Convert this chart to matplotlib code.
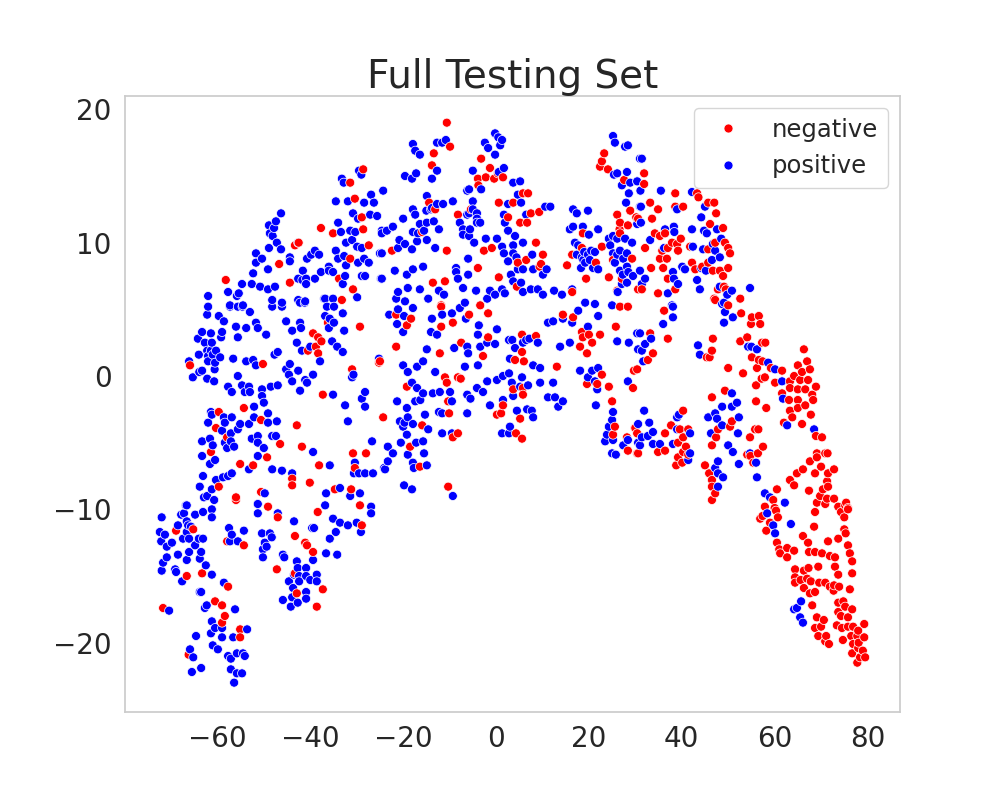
import matplotlib
matplotlib.use("Agg")
import matplotlib.pyplot as plt
import numpy as np
import pandas as pd
import seaborn as sns

# t-SNE coordinates, grouped by region (x, y)

# ---- negative (red) ----
neg_left_arm = [
    (-71.7, -17.4), (-68.9, -11.6), (-66.6, -15.0), (-65.2, -11.5), (-66.2, -20.9),
    (-63.3, -14.8), (-60.5, -16.9), (-59.0, -17.2), (-58.4, -18.0), (-59.0, -18.5),
    (-55.1, -19.0), (-55.1, -19.6), (-57.7, -15.8), (-57.9, -12.4), (-54.3, -12.7),
    (-56.0, -9.3), (-49.1, -9.8), (-47.0, -10.6), (-47.2, -14.5), (-43.3, -14.8),
    (-42.9, -16.3), (-37.3, -16.0), (-38.6, -17.3), (-38.4, -10.2), (-28.9, -11.2),
    (-29.3, -9.7), (-39.4, -13.2), (-43.3, -12.0), (-41.1, -12.5), (-40.7, -12.7),
]
neg_left_mid = [
    (-65.9, 0.8), (-50.2, 0.9), (-54.3, -2.4), (-59.7, -2.7), (-60.3, -3.9),
    (-57.9, -4.6), (-61.4, -5.7), (-50.6, -3.3), (-46.5, -5.1), (-49.3, -6.1),
    (-52.3, -6.7), (-55.1, -6.6), (-59.7, -8.3), (-50.6, -8.7), (-56.0, -9.1),
    (-39.4, 3.2), (-38.3, 2.9), (-37.6, 2.6), (-40.5, 1.9), (-38.8, 2.2),
    (-38.3, 1.7), (-37.3, -1.4), (-42.9, -3.7), (-41.8, -5.3), (-43.9, -7.7),
    (-43.9, -8.2), (-40.1, -8.0), (-38.1, -6.7), (-34.7, -8.5), (-31.2, -8.5),
    (-30.8, -5.8), (-30.4, -6.9), (-28.0, -5.8), (-31.0, 0.5), (-29.3, 3.7),
    (-25.2, 1.0), (-24.3, -3.1), (-33.2, 5.7), (-36.2, 4.0),
]
neg_upper_left = [
    (-28.6, 15.5), (-31.4, 14.5), (-30.4, 13.3), (-28.9, 11.9), (-28.6, 11.0),
    (-37.7, 11.1), (-35.1, 10.7), (-27.4, 9.8), (-31.4, 8.8), (-43.3, 9.8),
    (-42.5, 10.0), (-46.7, 8.4), (-58.2, 7.2), (-44.4, 7.0), (-33.8, 7.3),
    (-30.8, 6.5),
]
neg_upper_mid = [
    (-10.6, 19.0), (-13.4, 16.7), (-9.9, 17.2), (-13.8, 15.8), (-3.2, 16.3),
    (-1.3, 15.6), (-3.9, 14.8), (-3.8, 14.3), (-2.2, 14.9), (-0.4, 14.8),
    (1.5, 14.9), (0.4, 15.2), (-14.4, 13.0), (-13.1, 12.5), (-8.2, 12.1),
    (-5.4, 12.5), (0.6, 13.0), (2.6, 11.9), (3.7, 13.0), (5.8, 13.7),
    (6.9, 13.7), (7.5, 12.2), (9.3, 12.3), (5.2, 11.5), (6.7, 11.5),
    (8.6, 10.0), (10.1, 9.1), (9.7, 8.4), (9.4, 8.2), (6.5, 8.7),
    (4.7, 8.5), (-10.6, 9.4), (-2.6, 9.4), (-0.9, 9.6), (-3.9, 8.1),
    (0.6, 7.4), (4.5, 6.7), (-13.6, 7.0), (-11.0, 7.1), (-11.8, 5.3),
    (-3.4, 5.3), (-22.4, 9.4), (-15.9, 10.8), (23.3, 16.7), (22.8, 16.1),
    (22.4, 15.7), (24.1, 15.5), (27.6, 14.7), (26.1, 12.1), (26.7, 11.5),
    (26.6, 11.0), (28.9, 12.4), (30.2, 11.9), (28.4, 11.3), (26.7, 10.7),
    (18.7, 10.7), (18.5, 9.6), (22.8, 9.7), (21.5, 8.5), (16.4, 9.1),
    (15.3, 8.3), (24.3, 7.4), (27.1, 7.3), (26.1, 6.4), (25.2, 8.7),
    (29.3, 8.8), (30.6, 6.5), (19.4, 7.3), (16.4, 6.3),
]
neg_upper_right = [
    (31.9, 15.2), (31.9, 14.4), (38.6, 13.7), (33.2, 13.0), (34.9, 12.5),
    (38.6, 12.7), (40.3, 12.7), (43.3, 13.7), (43.6, 13.4), (45.7, 13.0),
    (47.0, 13.0), (47.4, 12.2), (33.6, 11.8), (30.6, 11.8), (46.1, 11.4),
    (48.9, 11.1), (34.2, 10.7), (35.3, 10.5), (36.4, 10.7), (37.9, 10.0),
    (39.0, 9.9), (39.8, 10.3), (37.0, 9.6), (35.8, 9.4), (35.3, 8.8),
    (36.8, 8.8), (39.2, 9.4), (41.8, 9.7), (42.2, 8.5), (42.9, 8.0),
    (44.4, 8.2), (45.7, 8.5), (46.7, 7.9), (48.2, 7.9), (50.0, 8.1),
    (48.9, 7.5), (45.7, 9.5), (47.2, 10.0), (49.3, 10.0), (50.4, 9.2),
    (50.0, 9.6), (33.4, 8.1), (36.0, 8.1), (38.6, 6.5), (34.9, 6.2),
    (31.4, 6.5), (37.0, 7.3), (49.1, 6.7), (49.5, 6.5), (47.8, 6.5),
    (47.0, 5.8), (52.6, 5.8), (32.1, 9.6),
]
neg_center = [
    (-21.5, 4.6), (-18.3, 4.3), (-19.2, 3.8), (-11.8, 5.2), (-11.8, 3.7),
    (-9.3, 4.0), (-5.8, 4.6), (-1.7, 4.7), (-21.5, 2.2), (-12.1, 1.7),
    (-7.5, 2.5), (-2.8, 1.5), (-1.7, 2.9), (-11.0, -0.1), (-10.6, -0.5),
    (-8.2, -0.1), (-7.6, -0.2), (-19.2, -0.8), (-10.3, -1.9), (-10.1, -2.8),
    (-15.9, -3.7), (-18.5, -5.3), (-16.4, -6.8), (-8.2, -4.3), (-9.3, -4.6),
    (-10.3, -8.3), (-25.0, 1.1), (1.5, -2.2), (0.2, -2.9), (1.1, -2.8),
    (5.2, -3.2), (4.3, -4.3), (5.6, -4.7), (3.7, -1.0), (5.8, -0.9),
    (5.8, -1.4), (5.6, 3.1), (8.6, 3.0), (4.1, 1.2), (5.6, 1.8),
    (6.0, 1.1), (13.1, 0.7), (14.4, 4.6), (16.6, 4.4), (18.5, 3.3),
    (18.7, 2.9), (20.0, 3.1), (20.7, 2.5), (22.4, 3.1), (18.1, 2.2),
    (19.6, 1.7), (25.8, 3.7), (26.7, 5.2), (28.4, 5.2), (22.8, 0.1),
    (21.8, -0.6), (19.6, -0.6), (24.3, -0.8), (25.0, -1.9), (25.6, -3.8),
    (25.2, -4.4), (28.2, -4.6), (30.4, -4.3), (30.0, -3.9), (28.4, -5.6),
    (30.4, -5.8), (29.7, 0.4), (29.5, -0.9),
]
neg_right = [
    (36.2, 4.9), (37.0, 2.8), (33.2, 3.2), (33.8, 1.7), (32.7, 1.2),
    (30.4, 0.5), (46.7, 2.8), (46.5, 1.9), (45.4, 1.4), (46.0, 1.4),
    (47.2, 5.7), (50.0, 5.3), (52.8, 4.7), (55.1, 4.4), (56.6, 4.5),
    (54.9, 3.9), (56.9, 3.9), (52.6, 2.6), (54.1, 2.9), (57.3, 2.5),
    (58.0, 2.5), (55.1, 1.4), (56.6, 1.2), (57.4, 1.1), (59.2, 0.6),
    (56.2, 0.6), (57.9, -0.1), (57.2, -0.2), (60.1, -0.5), (61.6, 0.4),
    (53.2, 0.2), (50.0, 0.6), (56.0, -0.7), (56.0, -1.9), (58.2, -2.4),
    (46.5, -1.6), (49.3, -1.1), (66.3, 2.0), (65.0, 0.8), (67.0, 1.1),
    (67.6, 0.5), (65.9, 0.3), (64.2, 0.0), (63.3, -0.4), (65.5, -0.3),
    (67.2, -0.3), (68.9, -0.8), (63.3, -0.9), (65.0, -1.0), (66.6, -1.0),
    (68.1, -1.4), (61.6, -1.3), (63.1, -1.8), (65.0, -1.8), (68.3, -1.8),
    (66.6, -2.2), (63.3, -2.6), (65.0, -2.4), (67.8, -2.9), (63.8, -3.1),
    (62.0, -3.5), (65.9, -3.6), (68.9, -4.5), (70.2, -4.6), (69.1, -5.8),
    (70.9, -5.8), (71.4, -5.8), (67.6, -6.4), (69.1, -6.1), (70.0, -6.8),
    (71.5, -7.3), (72.8, -7.0), (68.7, -7.3), (66.1, -7.0), (64.8, -7.3),
    (63.3, -7.8), (64.2, -8.2), (71.3, -7.9), (71.5, -8.3), (70.4, -8.5),
    (67.4, -8.6), (69.8, -9.0), (71.3, -9.2), (72.8, -9.2), (69.1, -9.5),
    (75.4, -9.5), (73.7, -9.8), (75.8, -9.9), (60.5, -8.5), (59.7, -9.3),
    (57.9, -9.8), (60.0, -9.9), (37.7, -3.7), (36.4, -4.3), (40.3, -2.6),
    (39.6, -4.0), (41.4, -4.0), (40.3, -4.6), (39.2, -5.0), (40.9, -5.3),
    (40.3, -5.7), (39.2, -6.1), (41.4, -5.9), (40.1, -6.5), (38.8, -6.7),
    (34.9, -5.7), (36.4, -5.6), (30.6, -5.8), (29.9, -3.9), (45.0, -6.7),
    (45.9, -7.3), (46.5, -7.8), (46.5, -8.3), (47.2, -8.8), (46.5, -9.3),
    (46.5, -5.2), (47.4, -4.6), (47.8, -4.0), (50.4, -3.8), (50.8, -3.4),
    (54.7, -4.6), (55.8, -4.0), (56.5, -4.0), (57.5, -5.3), (56.4, -5.8),
    (54.1, -5.9), (54.8, -6.0), (55.4, -6.5),
]
neg_right_tail = [
    (60.3, -10.1), (56.9, -10.7), (57.4, -10.5), (59.0, -11.0), (60.7, -10.6),
    (58.2, -11.6), (60.5, -12.5), (61.0, -13.0), (62.7, -12.9), (61.2, -13.3),
    (62.7, -13.6), (64.2, -13.1), (64.4, -14.5), (66.3, -14.6), (67.3, -14.4),
    (64.4, -15.1), (67.0, -15.2), (64.4, -15.5), (65.6, -15.3), (66.3, -15.9),
    (67.6, -16.3), (68.7, -16.2), (67.8, -15.4), (69.4, -14.3), (69.6, -15.5),
    (70.9, -15.5), (71.9, -15.8), (72.8, -15.7), (73.9, -15.8), (72.7, -16.1),
    (76.2, -16.0), (76.7, -14.8), (73.7, -14.9), (73.0, -14.3), (68.5, -11.3),
    (66.1, -12.0), (67.2, -12.5), (67.4, -13.2), (68.7, -13.2), (70.2, -13.3),
    (71.9, -13.5), (73.0, -13.6), (71.5, -12.4), (73.7, -12.2), (75.0, -11.5),
    (75.3, -11.8), (75.8, -12.7), (76.2, -13.3), (76.7, -13.9), (68.7, -10.2),
    (70.9, -9.6), (74.3, -10.2), (75.2, -9.7), (75.8, -10.0), (75.0, -10.6),
    (68.1, -17.2), (73.7, -17.0), (74.8, -16.9), (75.2, -17.3), (73.7, -17.7),
    (76.7, -17.5), (74.3, -18.0), (75.8, -18.1), (73.4, -18.7), (74.5, -18.9),
    (75.8, -18.8), (76.9, -18.8), (78.0, -19.1), (79.3, -18.6), (76.5, -19.5),
    (77.8, -19.5), (79.3, -19.6), (74.7, -19.8), (76.9, -20.1), (78.1, -20.0),
    (78.0, -20.4), (79.0, -20.6), (76.7, -20.8), (78.4, -21.1), (79.5, -21.1),
    (77.8, -21.5), (69.1, -18.1), (70.6, -18.3), (68.7, -18.9), (70.0, -18.8),
    (69.4, -19.5), (71.1, -19.5), (70.9, -19.9), (71.7, -20.1),
]

# ---- positive (blue) ----
pos_left_arm = [
    (-72.4, -11.7), (-72.1, -12.4), (-71.3, -11.9), (-69.8, -12.5), (-70.9, -12.8),
    (-72.0, -10.6), (-71.7, -14.0), (-72.0, -14.6), (-70.9, -13.6), (-69.1, -14.5),
    (-68.9, -14.7), (-67.6, -15.4), (-68.5, -11.2), (-67.8, -10.4), (-67.2, -10.3),
    (-66.6, -9.7), (-66.6, -10.9), (-66.3, -11.2), (-65.7, -11.3), (-64.8, -10.4),
    (-66.6, -11.7), (-67.4, -12.2), (-66.1, -12.2), (-64.8, -12.7), (-64.0, -12.2),
    (-63.1, -12.2), (-63.5, -13.2), (-66.1, -13.2), (-68.5, -13.4), (-66.6, -13.8),
    (-63.8, -13.7), (-62.5, -14.2), (-61.2, -14.9), (-63.1, -10.2), (-61.2, -10.0),
    (-61.2, -10.6), (-62.9, -9.1), (-63.8, -16.2), (-63.5, -16.2), (-70.4, -17.6),
    (-65.9, -20.5), (-65.2, -21.1), (-65.5, -22.2), (-63.5, -21.9), (-64.6, -19.5),
    (-56.2, -17.5), (-53.6, -19.0), (-61.2, -18.4), (-60.5, -18.9), (-59.0, -18.9),
    (-61.4, -19.3), (-59.0, -19.6), (-56.6, -19.6), (-61.0, -20.2), (-59.9, -20.5),
    (-57.7, -21.0), (-57.1, -21.2), (-55.8, -20.8), (-54.5, -20.8), (-54.1, -21.0),
    (-57.1, -22.0), (-55.8, -22.3), (-54.7, -22.3), (-56.4, -23.0), (-62.7, -17.4),
    (-62.3, -17.2), (-58.6, -15.5), (-57.5, -11.4), (-56.9, -11.9), (-57.3, -12.4),
    (-55.6, -12.4), (-54.3, -11.6), (-51.3, -9.6), (-51.3, -10.3), (-47.0, -10.3),
    (-50.4, -11.8), (-48.7, -11.8), (-48.3, -12.1), (-49.8, -12.5), (-49.4, -12.8),
    (-50.2, -13.0), (-50.2, -13.6), (-45.9, -13.4), (-45.6, -13.6), (-42.9, -13.9),
    (-43.5, -14.9), (-42.7, -14.4), (-40.9, -14.4), (-42.4, -15.0), (-44.6, -15.4),
    (-40.9, -15.0), (-40.0, -15.3), (-38.6, -14.9), (-38.6, -15.4), (-43.7, -15.9),
    (-42.4, -15.4), (-40.9, -16.2), (-45.9, -16.8), (-43.9, -16.6), (-44.2, -17.3),
    (-42.7, -17.0), (-40.9, -16.7), (-36.8, -9.7), (-35.1, -10.7), (-33.6, -11.0),
    (-31.9, -11.2), (-30.0, -11.0), (-29.1, -11.7), (-26.9, -9.8), (-26.9, -10.3),
    (-34.5, -11.7), (-35.8, -12.2), (-36.6, -13.3), (-34.2, -13.4), (-39.4, -13.8),
    (-39.6, -11.4), (-39.2, -11.4), (-43.5, -10.9),
]
pos_left_mid = [
    (-62.0, 5.2), (-62.2, 4.6), (-57.3, 5.2), (-55.6, 5.2), (-54.6, 5.2),
    (-53.0, 4.8), (-59.7, 4.5), (-58.6, 4.1), (-56.0, 3.7), (-53.8, 3.6),
    (-55.6, 2.9), (-51.7, 4.0), (-51.3, 3.6), (-49.5, 3.1), (-63.3, 3.3),
    (-64.2, 2.8), (-61.4, 3.2), (-59.0, 3.3), (-59.2, 2.9), (-62.7, 2.5),
    (-61.2, 2.5), (-62.2, 1.9), (-61.4, 1.9), (-60.3, 1.9), (-64.0, 1.6),
    (-62.0, 1.5), (-61.0, 1.6), (-59.4, 1.4), (-62.0, 1.1), (-60.5, 1.0),
    (-60.6, 0.5), (-66.1, 1.1), (-63.3, 0.4), (-63.9, 0.3), (-65.3, -0.1),
    (-62.2, -0.2), (-60.7, -0.4), (-56.6, 1.3), (-53.8, 1.1), (-52.3, 1.2),
    (-51.7, 0.8), (-55.6, 0.0), (-57.7, -0.8), (-56.9, -1.2), (-54.7, -0.7),
    (-53.2, -0.8), (-54.1, -1.2), (-53.0, -1.2), (-50.4, -1.0), (-50.4, -1.5),
    (-48.5, -0.8), (-47.0, -0.7), (-50.0, -2.0), (-52.1, -2.3), (-49.1, -2.8),
    (-47.2, -3.4), (-49.1, -3.5), (-52.1, -3.1), (-53.2, -3.6), (-55.1, -3.6),
    (-56.9, -3.1), (-58.6, -3.1), (-58.4, -3.5), (-55.6, -4.0), (-57.1, -4.3),
    (-59.0, -4.1), (-61.2, -2.9), (-61.4, -2.7), (-62.0, -3.5), (-63.3, -4.9),
    (-61.6, -4.7), (-61.0, -5.2), (-63.3, -6.0), (-60.5, -6.3), (-61.6, -6.6),
    (-58.4, -5.0), (-57.1, -4.9), (-57.9, -5.4), (-56.4, -5.3), (-52.6, -4.7),
    (-51.3, -4.5), (-51.3, -5.0), (-50.0, -5.4), (-48.2, -4.5), (-47.4, -4.5),
    (-51.3, -6.0), (-48.2, -7.0), (-46.1, -7.1), (-43.9, -7.3), (-53.2, -7.0),
    (-56.9, -7.3), (-57.7, -7.5), (-58.8, -7.6), (-60.3, -7.8), (-63.1, -7.5),
    (-63.8, -8.3), (-61.2, -8.5), (-62.2, -9.0), (-60.7, -9.3), (-66.8, -9.7),
    (-51.3, -9.6), (-49.8, -8.8), (-48.2, 5.2), (-46.1, 5.2), (-42.2, 5.5),
    (-41.1, 5.6), (-45.2, 4.1), (-43.9, 3.4), (-42.2, 4.0), (-42.0, 3.6),
    (-42.9, 2.5), (-41.8, 1.9), (-40.0, 2.2), (-47.0, 1.8), (-47.7, 1.6),
    (-44.4, 0.9), (-45.2, 0.5), (-42.6, 0.4), (-44.6, 0.1), (-43.9, -0.4),
    (-41.1, -0.3), (-40.7, -0.5), (-39.4, 0.1), (-42.2, -1.1), (-37.9, 1.1),
    (-36.8, 4.5), (-35.8, 4.3), (-36.0, 3.6), (-34.9, 4.0), (-35.3, 2.6),
    (-34.2, 2.2), (-33.0, 1.8), (-32.7, 3.4), (-36.4, 5.2), (-34.9, 5.2),
    (-33.0, 4.7), (-35.1, -1.4), (-32.5, -2.2), (-31.0, -0.1), (-30.7, 0.1),
    (-28.2, -1.2), (-28.9, -1.7), (-28.2, -2.3), (-26.7, -4.9), (-25.2, 1.3),
    (-31.9, -3.4), (-39.4, -5.7), (-35.8, -6.7), (-30.6, -7.3), (-28.2, -7.3),
    (-26.5, -7.3), (-29.5, -7.3), (-31.4, -9.0), (-29.3, -8.8), (-33.6, -8.4),
    (-36.6, -8.8), (-24.1, -6.9), (-30.4, -6.5),
]
pos_upper_left = [
    (-29.5, 15.4), (-29.0, 15.1), (-33.2, 14.8), (-32.8, 14.5), (-24.3, 13.9),
    (-34.5, 13.1), (-31.9, 13.1), (-28.4, 13.0), (-26.9, 13.6), (-26.3, 13.0),
    (-30.8, 12.2), (-29.7, 11.8), (-27.1, 12.1), (-25.6, 12.0), (-34.0, 11.5),
    (-31.4, 10.9), (-30.3, 10.8), (-33.4, 10.8), (-32.3, 10.0), (-31.0, 10.2),
    (-29.9, 9.7), (-28.9, 9.6), (-24.6, 10.9), (-25.0, 9.2), (-34.5, 9.4),
    (-34.0, 8.8), (-32.7, 9.0), (-28.4, 8.8), (-29.7, 8.5), (-27.4, 8.5),
    (-32.3, 8.3), (-32.5, 7.5), (-35.1, 7.8), (-36.0, 8.2), (-28.9, 7.5),
    (-28.2, 7.5), (-24.8, 7.3), (-33.0, 6.9), (-29.9, 5.9), (-36.8, 5.8),
    (-35.1, 5.8), (-46.3, 12.2), (-47.4, 11.6), (-48.9, 11.3), (-47.8, 11.1),
    (-48.7, 10.7), (-48.1, 10.5), (-47.2, 10.0), (-48.9, 9.6), (-46.3, 9.5),
    (-51.7, 9.2), (-50.4, 8.8), (-44.4, 8.9), (-44.4, 8.6), (-40.7, 8.8),
    (-39.0, 9.4), (-39.8, 9.1), (-38.1, 9.1), (-51.7, 8.5), (-49.1, 8.0),
    (-52.3, 7.7), (-42.6, 10.0), (-41.6, 7.9), (-42.6, 7.3), (-41.7, 7.2),
    (-40.9, 7.3), (-39.0, 7.3), (-40.9, 6.9), (-37.7, 7.8), (-36.0, 7.9),
    (-54.7, 6.9), (-52.6, 6.9), (-50.8, 6.7), (-49.1, 6.5), (-47.6, 6.7),
    (-57.7, 6.3), (-55.8, 6.0), (-55.4, 6.2), (-62.0, 6.0), (-57.3, 5.3),
    (-54.5, 5.3), (-48.2, 5.7), (-46.1, 5.5), (-42.6, 5.7), (-41.2, 5.5),
    (-37.0, 5.8),
]
pos_upper_mid = [
    (-17.9, 17.4), (-17.4, 16.9), (-16.4, 16.6), (-12.7, 17.5), (-11.6, 17.5),
    (-10.8, 17.7), (-0.2, 18.2), (0.5, 17.9), (1.3, 17.7), (0.9, 17.3),
    (-2.4, 17.5), (-1.7, 17.1), (-0.2, 16.6), (-12.7, 15.4), (-19.6, 15.0),
    (-18.1, 14.8), (-17.2, 15.2), (-13.8, 14.8), (-5.0, 15.4), (-3.2, 14.0),
    (0.6, 15.3), (1.7, 15.6), (3.7, 14.5), (5.2, 14.6), (4.7, 13.6),
    (5.4, 13.0), (2.6, 12.9), (1.7, 12.1), (1.9, 11.5), (2.6, 10.9),
    (4.1, 10.5), (5.8, 10.0), (3.7, 9.8), (1.3, 9.7), (1.7, 9.2),
    (3.7, 9.2), (2.6, 8.6), (4.4, 8.9), (4.7, 8.0), (3.2, 7.6),
    (5.8, 8.0), (7.8, 9.1), (8.0, 8.0), (10.1, 7.6), (10.9, 8.0),
    (6.5, 12.1), (10.6, 12.7), (11.7, 12.7), (-9.3, 13.1), (-11.4, 12.9),
    (-12.7, 12.9), (-13.8, 12.6), (-14.9, 13.5), (-6.2, 13.9), (-5.8, 14.0),
    (-5.0, 13.1), (-5.0, 12.5), (-5.8, 12.2), (-6.2, 12.1), (-4.1, 12.2),
    (-4.1, 11.8), (-3.4, 11.5), (-4.1, 11.5), (-7.8, 11.5), (-7.1, 11.0),
    (-5.6, 11.0), (-7.1, 10.6), (-5.8, 10.5), (-4.7, 10.0), (-2.2, 10.3),
    (0.2, 10.3), (-12.3, 11.0), (-13.4, 11.6), (-14.9, 11.5), (-16.4, 11.4),
    (-17.9, 10.8), (-16.8, 10.7), (-15.5, 10.9), (-17.0, 10.1), (-14.9, 10.2),
    (-13.1, 9.6), (-14.0, 12.5), (-15.0, 12.4), (-17.9, 12.5), (-17.4, 12.1),
    (-20.0, 11.8), (-22.2, 11.2), (-23.5, 10.9), (-24.6, 10.7), (-21.1, 9.6),
    (-19.6, 9.9), (-20.8, 10.2), (-18.1, 9.5), (-24.6, 9.2), (-21.8, 7.9),
    (-19.2, 7.6), (-17.9, 8.0), (-15.7, 8.2), (-24.6, 7.3), (-8.6, 8.1),
    (-8.6, 7.8), (-8.2, 7.3), (-6.0, 7.6), (-6.0, 8.8), (-14.6, 5.8),
    (-19.0, 6.6), (-21.1, 6.3), (-21.5, 5.8), (-19.6, 5.6), (-11.2, 6.1),
    (-7.1, 6.6), (-4.3, 6.4), (-1.9, 5.8), (-0.2, 6.1), (1.9, 6.2),
    (3.7, 7.1), (5.4, 7.0), (5.8, 6.3), (7.5, 6.5), (9.0, 6.5),
    (10.1, 6.1), (12.5, 6.4), (14.2, 6.1), (16.4, 6.5), (1.3, 6.5),
    (-1.3, 6.4), (-12.3, 6.4), (-16.4, 6.5), (16.6, 12.5), (17.4, 12.2),
    (19.8, 12.4), (15.9, 11.0), (16.6, 11.2), (18.7, 11.2), (20.0, 10.6),
    (22.0, 11.0), (17.0, 10.0), (17.7, 9.8), (19.0, 9.3), (17.4, 9.1),
    (18.5, 8.9), (19.8, 9.1), (20.5, 9.4), (21.3, 9.3), (20.2, 8.7),
    (19.2, 8.5), (18.3, 8.1), (18.8, 8.7), (20.9, 8.1), (22.0, 8.0),
    (24.3, 10.3), (25.2, 10.5), (26.1, 10.3), (27.8, 10.3), (29.3, 10.0),
    (24.6, 9.8), (25.2, 9.2), (26.1, 9.1), (26.7, 9.4), (28.2, 9.2),
    (27.4, 8.8), (25.6, 8.5), (28.2, 8.2), (26.7, 7.9), (28.5, 7.8),
    (29.5, 7.5), (27.3, 7.6), (31.0, 7.9), (27.1, 6.9), (26.2, 6.3),
    (28.2, 7.0), (25.2, 18.0), (25.6, 17.5), (27.8, 17.2), (28.4, 17.3),
    (25.4, 15.1), (26.1, 15.2), (28.2, 15.3), (27.1, 14.3), (28.9, 14.5),
    (28.6, 13.7), (30.4, 14.6), (28.0, 13.0), (31.0, 16.3), (31.0, 12.7),
    (31.1, 13.9),
]
pos_upper_right = [
    (31.4, 16.3), (30.4, 14.6), (35.5, 13.9), (42.2, 13.8), (31.2, 12.7),
    (39.0, 12.5), (45.0, 12.7), (44.2, 11.9), (30.4, 11.4), (31.2, 11.5),
    (36.4, 11.0), (38.3, 11.2), (38.4, 10.8), (42.2, 11.0), (44.8, 10.9),
    (45.4, 10.7), (47.6, 11.0), (48.5, 10.3), (33.2, 10.2), (36.2, 9.6),
    (42.4, 9.7), (44.6, 9.5), (46.7, 9.9), (47.2, 9.4), (48.2, 8.9),
    (46.5, 8.7), (40.1, 8.2), (40.7, 8.0), (44.2, 8.1), (45.2, 7.9),
    (38.1, 7.8), (38.3, 7.3), (39.2, 6.9), (32.1, 7.3), (31.4, 6.9),
    (43.3, 7.2), (43.9, 6.5), (48.2, 6.7), (50.8, 6.4), (37.0, 6.2),
    (54.7, 6.6), (49.8, 6.1), (37.9, 5.3), (49.1, 5.5),
]
pos_center = [
    (-23.0, 4.6), (-21.1, 5.0), (-19.8, 4.5), (-21.3, 3.9), (-20.0, 3.3),
    (-17.9, 5.1), (-13.8, 4.3), (-11.6, 4.6), (-9.5, 4.7), (-7.8, 5.1),
    (-6.7, 5.5), (-6.5, 4.3), (-14.0, 3.3), (-12.7, 3.1), (-14.9, 2.0),
    (-9.0, 2.1), (-6.2, 2.2), (-6.0, 1.7), (-3.7, 3.8), (-3.9, 3.1),
    (-3.4, 2.2), (-1.9, 2.5), (-0.2, 2.4), (0.2, 3.5), (-3.9, 0.8),
    (-6.7, 0.7), (-13.1, 0.3), (-17.0, 0.7), (-15.7, 1.1), (-20.0, 0.8),
    (-19.0, 0.3), (-18.1, -0.5), (-17.0, -0.9), (-15.7, -1.3), (-17.4, -1.9),
    (-16.3, -1.8), (-21.3, -1.9), (-19.2, -2.4), (-19.0, -3.1), (-20.7, -3.4),
    (-19.7, -3.5), (-17.9, -3.6), (-20.0, -3.8), (-19.2, -4.4), (-14.6, -4.0),
    (-12.1, -1.2), (-13.6, -1.3), (-9.9, -1.2), (-9.5, -1.9), (-11.6, -2.8),
    (-12.3, -2.7), (-15.3, -2.9), (-15.7, -4.9), (-17.2, -5.0), (-20.5, -5.0),
    (-22.2, -5.8), (-23.3, -5.3), (-19.0, -5.9), (-15.5, -5.8), (-23.3, -6.4),
    (-23.9, -7.0), (-17.9, -6.5), (-17.7, -6.9), (-14.9, -6.7), (-11.6, -4.3),
    (-9.5, -4.3), (-6.2, -2.8), (-6.2, -1.4), (-5.5, -1.7), (-4.1, -0.9),
    (-2.8, -1.2), (-1.9, -0.4), (0.2, -0.3), (1.5, 0.0), (2.8, 0.2),
    (3.4, -0.5), (3.7, -1.5), (5.2, -0.8), (5.6, -0.1), (6.9, -0.7),
    (9.5, -0.5), (12.3, -0.5), (-1.3, -2.2), (1.5, -1.8), (4.5, -2.6),
    (6.7, -2.5), (7.7, -2.6), (8.0, -3.1), (3.0, -3.8), (2.8, -4.3),
    (1.3, -4.3), (3.0, 1.3), (2.8, 2.7), (3.5, 2.7), (4.1, 2.1),
    (5.8, 2.5), (6.5, 2.7), (7.2, 2.8), (9.0, 2.5), (8.0, 0.8),
    (9.5, 0.6), (11.2, -1.6), (12.7, -1.6), (14.4, -1.9), (13.4, -2.3),
    (11.2, 4.0), (12.3, 4.1), (13.8, 2.2), (15.9, 2.5), (14.4, 4.3),
    (16.4, 4.0), (17.7, 4.9), (19.2, 5.5), (21.3, 5.4), (19.8, 3.7),
    (22.0, 4.5), (25.0, 5.3), (18.1, 0.4), (20.7, 0.4), (22.0, 0.6),
    (19.8, -0.1), (21.3, -0.4), (21.8, -1.0), (21.5, -2.2), (26.1, 2.6),
    (28.6, 2.5), (30.4, 3.2), (30.6, 2.0), (28.4, -0.4), (25.2, -2.7),
    (25.0, -3.3), (24.3, -3.8), (23.9, -4.4), (23.5, -4.9), (25.2, -4.8),
    (27.4, -5.2), (25.0, -5.8), (25.8, -5.9), (28.4, -4.8), (30.6, -5.0),
    (-19.8, -8.2), (-18.1, -8.5), (-9.3, -9.0),
]
pos_right = [
    (38.1, 5.2), (38.1, 4.4), (36.0, 3.9), (31.0, 3.2), (33.4, 2.8),
    (32.1, 2.4), (31.4, 1.9), (31.7, 1.1), (43.5, 2.3), (43.9, 1.6),
    (48.7, 5.4), (49.3, 4.8), (51.0, 4.4), (49.1, 4.0), (54.3, 2.2),
    (55.0, 2.2), (56.2, 2.0), (58.6, 1.0), (60.1, 0.5), (61.6, -0.4),
    (61.8, -1.7), (62.7, -3.7), (68.5, -4.0), (31.9, -2.6), (33.0, -3.5),
    (30.6, -3.6), (31.4, -4.6), (32.7, -4.5), (33.8, -4.2), (31.0, -5.2),
    (33.8, -5.1), (35.3, -5.1), (38.1, -5.1), (39.0, -3.1), (39.4, -2.9),
    (39.0, -4.0), (41.8, -4.3), (41.8, -5.8), (41.4, -6.3), (50.8, -1.3),
    (51.9, -2.0), (50.8, -2.3), (48.7, -2.3), (45.7, -3.1), (47.2, -2.8),
    (47.6, -3.2), (48.7, -3.7), (52.3, -3.1), (46.3, -4.3), (52.1, -4.3),
    (50.0, -5.2), (51.0, -5.7), (54.7, -5.8), (52.3, -6.6), (56.0, -6.5),
    (56.2, -7.6), (47.8, -6.4), (47.2, -6.9), (47.8, -7.3), (48.9, -7.6),
    (47.8, -8.3), (57.9, -8.8), (59.0, -9.1), (62.2, -9.5), (58.4, -10.3),
    (59.7, -11.2), (60.1, -11.8), (63.5, -11.1), (65.7, -16.9), (64.2, -17.5),
    (64.8, -17.4), (65.5, -18.1), (66.1, -18.5),
]

neg_points = np.array(neg_left_arm + neg_left_mid + neg_upper_left + neg_upper_mid
                      + neg_upper_right + neg_center + neg_right + neg_right_tail)
pos_points = np.array(pos_left_arm + pos_left_mid + pos_upper_left + pos_upper_mid
                      + pos_upper_right + pos_center + pos_right)

df = pd.concat([
    pd.DataFrame({"x": pos_points[:, 0], "y": pos_points[:, 1], "label": "positive"}),
    pd.DataFrame({"x": neg_points[:, 0], "y": neg_points[:, 1], "label": "negative"}),
], ignore_index=True)
# mix draw order so neither class sits entirely on top
df = df.sort_values("x", kind="stable").reset_index(drop=True)

sns.set_theme(style="whitegrid", font_scale=1.6)
plt.rcParams["xtick.labelsize"] = 20
plt.rcParams["ytick.labelsize"] = 20

fig, ax = plt.subplots(figsize=(10, 8), dpi=100)
sns.scatterplot(data=df, x="x", y="y", hue="label",
                hue_order=["negative", "positive"],
                palette=["red", "blue"], s=42, ax=ax)
ax.grid(False)
ax.set_xlim(-79.9, 87.0)
ax.set_ylim(-25.2, 21.0)
ax.set_xticks([-60, -40, -20, 0, 20, 40, 60, 80])
ax.set_yticks([-20, -10, 0, 10, 20])
ax.set_xlabel("")
ax.set_ylabel("")
ax.set_title("Full Testing Set", fontsize=28)

handles, labels = ax.get_legend_handles_labels()
ax.legend(handles, labels, loc="upper right", fontsize=17.5)

plt.savefig("out.png", dpi=100)
